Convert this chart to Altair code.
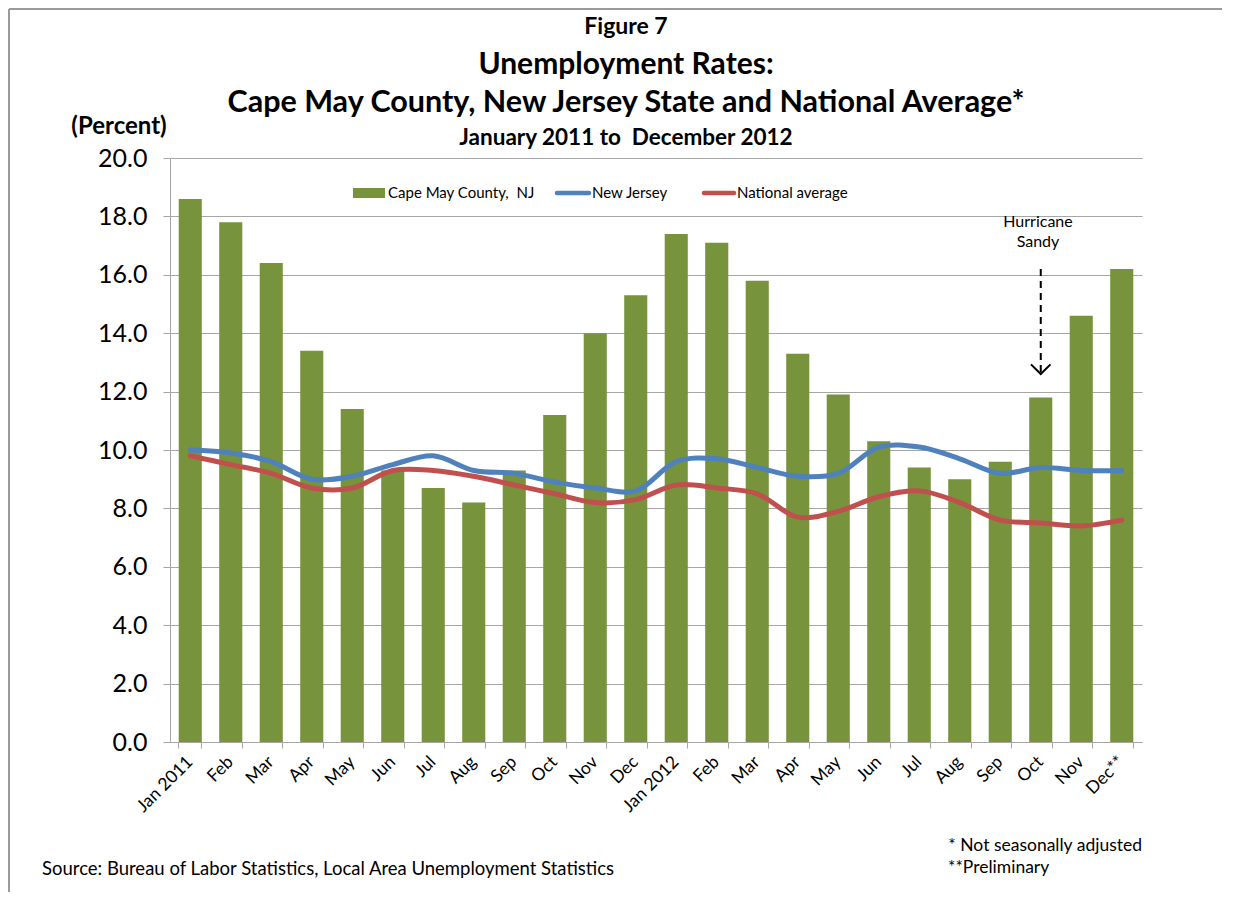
import json
import altair as alt
import pandas as pd

# ---------------- data ----------------
periods = ["2011-01", "2011-02", "2011-03", "2011-04", "2011-05", "2011-06",
           "2011-07", "2011-08", "2011-09", "2011-10", "2011-11", "2011-12",
           "2012-01", "2012-02", "2012-03", "2012-04", "2012-05", "2012-06",
           "2012-07", "2012-08", "2012-09", "2012-10", "2012-11", "2012-12"]
month_labels = ["Jan 2011", "Feb", "Mar", "Apr", "May", "Jun", "Jul", "Aug", "Sep",
                "Oct", "Nov", "Dec", "Jan 2012", "Feb", "Mar", "Apr", "May", "Jun",
                "Jul", "Aug", "Sep", "Oct", "Nov", "Dec**"]
cape_may = [18.6, 17.8, 16.4, 13.4, 11.4, 9.3, 8.7, 8.2, 9.3, 11.2, 14.0, 15.3,
            17.4, 17.1, 15.8, 13.3, 11.9, 10.3, 9.4, 9.0, 9.6, 11.8, 14.6, 16.2]
new_jersey = [10.0, 9.9, 9.6, 9.0, 9.1, 9.5, 9.8, 9.3, 9.2, 8.9, 8.7, 8.6,
              9.6, 9.7, 9.4, 9.1, 9.2, 10.1, 10.1, 9.7, 9.2, 9.4, 9.3, 9.3]
national = [9.8, 9.5, 9.2, 8.7, 8.7, 9.3, 9.3, 9.1, 8.8, 8.5, 8.2, 8.3,
            8.8, 8.7, 8.5, 7.7, 7.9, 8.4, 8.6, 8.2, 7.6, 7.5, 7.4, 7.6]
y_ticks = [0, 2, 4, 6, 8, 10, 12, 14, 16, 18, 20]

legend_labels = ["Cape May County,\u00a0 NJ", "New Jersey", "National average"]
titles = ["Figure 7", "Unemployment Rates:",
          "Cape May County, New Jersey State and National Average*",
          "January 2011 to\u00a0 December 2012"]
y_title = "(Percent)"
annotation_lines = ["Hurricane", "Sandy"]
annotation_period = "2012-10"
arrow_from, arrow_to = 16.2, 12.6
source_note = "Source: Bureau of Labor Statistics, Local Area Unemployment Statistics"
notes = ["* Not seasonally adjusted", "**Preliminary"]

df = pd.DataFrame({"period": periods, "cape": cape_may, "nj": new_jersey, "nat": national})

FONT = "Lato"
GREEN, BLUE, RED = "#77933C", "#4F81BD", "#C0504D"
GRID = "#a6a6a6"
W, H = 972, 584

label_expr = json.dumps(dict(zip(periods, month_labels))) + "[datum.value]"

x_enc = alt.X("period:O", sort=periods,
              scale=alt.Scale(paddingInner=0.43, paddingOuter=0.215),
              axis=alt.Axis(title=None, labelExpr=label_expr, labelAngle=-45,
                            labelAlign="right", labelBaseline="middle",
                            labelFontSize=17.5, labelColor="black", labelFont=FONT,
                            labelPadding=11, bandPosition=1, tickExtra=True,
                            tickSize=6, tickColor=GRID,
                            domainColor=GRID, grid=False))
y_scale = alt.Scale(domain=[0, 20], nice=False, zero=True)

bars = alt.Chart(df).mark_bar(color=GREEN).encode(
    x=x_enc,
    y=alt.Y("cape:Q", scale=y_scale,
            axis=alt.Axis(title=None, values=y_ticks, format=".1f", labelFontSize=25,
                          labelColor="black", labelFont=FONT, labelPadding=16,
                          tickSize=7, tickColor=GRID, domainColor=GRID,
                          grid=True, gridColor=GRID, gridWidth=1.2))
)

nj_line = alt.Chart(df).mark_line(color=BLUE, strokeWidth=5, interpolate="catmull-rom",
                                  strokeCap="round").encode(
    x=alt.X("period:O", sort=periods), y=alt.Y("nj:Q", scale=y_scale))
nat_line = alt.Chart(df).mark_line(color=RED, strokeWidth=5, interpolate="catmull-rom",
                                   strokeCap="round").encode(
    x=alt.X("period:O", sort=periods), y=alt.Y("nat:Q", scale=y_scale))

arrow_df = pd.DataFrame({"period": [annotation_period], "y1": [arrow_from], "y2": [arrow_to]})
arrow_shaft = alt.Chart(arrow_df).mark_rule(color="black", strokeWidth=2,
                                            strokeDash=[7, 5]).encode(
    x=alt.X("period:O", sort=periods), y=alt.Y("y1:Q", scale=y_scale), y2="y2:Q")
arrow_head = alt.Chart(arrow_df).mark_point(shape="M-1,-1L0,0L1,-1", size=380,
                                            filled=False, color="black",
                                            strokeWidth=2, opacity=1).encode(
    x=alt.X("period:O", sort=periods), y=alt.Y("y2:Q", scale=y_scale))


def txt(s, x, y, size, weight="normal", align="center"):
    return alt.Chart(pd.DataFrame({"t": [s]})).mark_text(
        font=FONT, fontSize=size, fontWeight=weight, align=align,
        baseline="middle", color="black").encode(
        x=alt.value(x), y=alt.value(y), text="t:N")


texts = [
    txt(titles[0], 456, -131, 23, "bold"),
    txt(titles[1], 456, -93, 30, "bold"),
    txt(titles[2], 456, -55, 30.5, "bold"),
    txt(titles[3], 456, -20, 22.5, "bold"),
    txt(y_title, -51, -31, 24, "bold"),
    txt(annotation_lines[0], 868, 64, 16),
    txt(annotation_lines[1], 868, 84, 16),
    txt(source_note, -128, 711, 18.5, align="left"),
    txt(notes[0], 972, 688, 17.5, align="right"),
    txt(notes[1], 778, 710, 17.5, align="left"),
    txt(legend_labels[0], 218, 35, 15, align="left"),
    txt(legend_labels[1], 422, 35, 15, align="left"),
    txt(legend_labels[2], 567, 35, 15, align="left"),
]

one = pd.DataFrame({"k": [0]})
legend_marks = [
    alt.Chart(one).mark_rect(color=GREEN).encode(
        x=alt.value(183), x2=alt.value(215), y=alt.value(30), y2=alt.value(40)),
    alt.Chart(one).mark_rule(color=BLUE, strokeWidth=4.5, strokeCap="round").encode(
        x=alt.value(387), x2=alt.value(419), y=alt.value(35)),
    alt.Chart(one).mark_rule(color=RED, strokeWidth=4.5, strokeCap="round").encode(
        x=alt.value(534), x2=alt.value(564), y=alt.value(35)),
    # outer chart border (top and left edges)
    alt.Chart(one).mark_rule(color="#9a9a9a", strokeWidth=2).encode(
        x=alt.value(-161), x2=alt.value(1075), y=alt.value(-149)),
    alt.Chart(one).mark_rule(color="#9a9a9a", strokeWidth=2).encode(
        x=alt.value(-161), y=alt.value(-149), y2=alt.value(740)),
]

chart = alt.layer(bars, nj_line, nat_line, arrow_shaft, arrow_head,
                  *legend_marks, *texts).properties(
    width=W, height=H,
    autosize=alt.AutoSizeParams(type="none"),
    padding={"left": 162, "top": 150, "right": 80, "bottom": 150},
    background="white",
).configure_view(stroke=None).configure_axis(labelFont=FONT)

chart.save("out.html", embed_options={"renderer": "svg", "actions": False})
